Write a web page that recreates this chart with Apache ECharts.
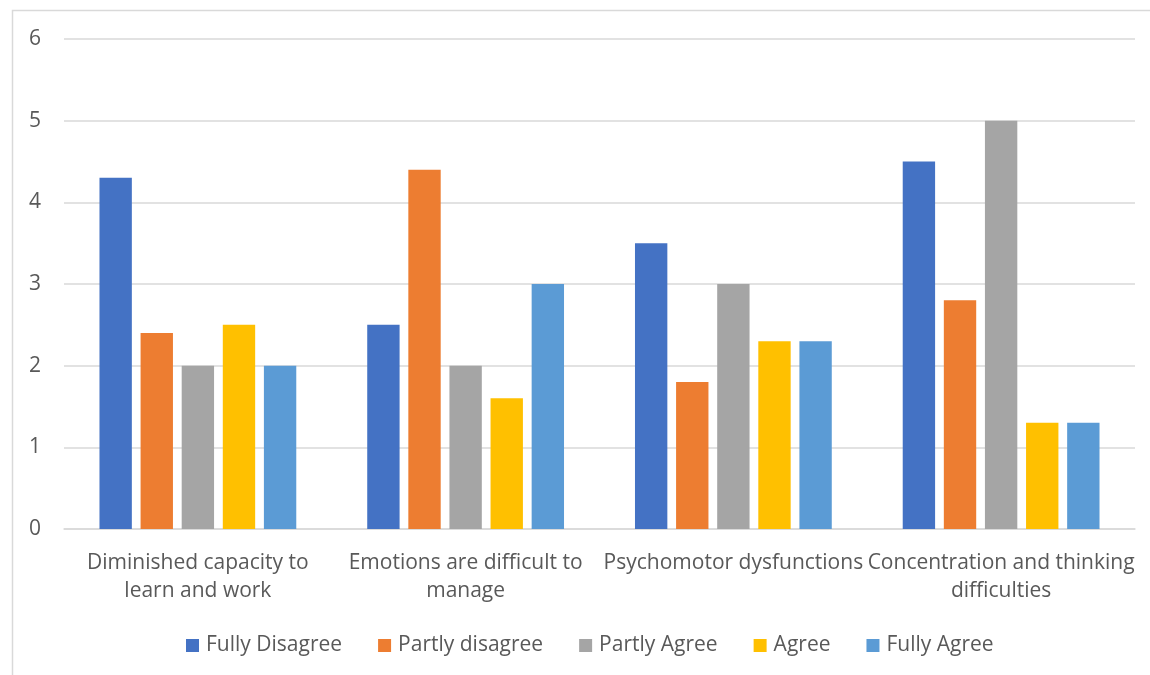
<!DOCTYPE html>
<html>
<head>
<meta charset="utf-8">
<script src="https://cdn.jsdelivr.net/npm/echarts@6/dist/echarts.min.js"></script>
<style>
  html, body { margin: 0; padding: 0; background: #fff; }
  #chart { width: 1150px; height: 675px; }
</style>
</head>
<body>
<div id="chart"></div>
<script>
// Symptom categories along the x axis
var categories = [
  'Diminished capacity to\nlearn and work',
  'Emotions are difficult to\nmanage',
  'Psychomotor dysfunctions',
  'Concentration and thinking\ndifficulties'
];

// One array per response level, values per category
var fullyDisagree = [4.3, 2.5, 3.5, 4.5];
var partlyDisagree = [2.4, 4.4, 1.8, 2.8];
var partlyAgree = [2.0, 2.0, 3.0, 5.0];
var agree = [2.5, 1.6, 2.3, 1.3];
var fullyAgree = [2.0, 3.0, 2.3, 1.3];

var seriesNames = ['Fully Disagree', 'Partly disagree', 'Partly Agree', 'Agree', 'Fully Agree'];
var seriesData = [fullyDisagree, partlyDisagree, partlyAgree, agree, fullyAgree];
var seriesColors = ['#4472C4', '#ED7D31', '#A5A5A5', '#FFC000', '#5B9BD5'];

var FONT = '"Open Sans"';
var FONT_SIZE = 21;
var TEXT = '#595959';
var GRID = '#d9d9d9';

var chart = echarts.init(document.getElementById('chart'), null, { renderer: 'canvas' });

chart.setOption({
  backgroundColor: '#ffffff',
  animation: false,
  textStyle: { fontFamily: FONT },
  graphic: [{
    type: 'rect',
    silent: true,
    shape: { x: 12.5, y: 10.5, width: 1300, height: 800 },
    style: { fill: 'none', stroke: GRID, lineWidth: 1.5 }
  }],
  grid: { left: 64, right: 15, top: 39, bottom: 146, containLabel: false },
  legend: {
    data: seriesNames,
    left: 181,
    top: 630,
    icon: 'rect',
    itemWidth: 13,
    itemHeight: 13,
    itemGap: 36,
    textStyle: { fontFamily: FONT, fontSize: FONT_SIZE, color: TEXT, padding: [0, 0, 0, 2] }
  },
  xAxis: {
    type: 'category',
    data: categories,
    axisTick: { show: false },
    axisLine: { lineStyle: { color: GRID, width: 1.5 } },
    axisLabel: {
      interval: 0,
      margin: 20,
      fontFamily: FONT,
      fontSize: FONT_SIZE,
      lineHeight: 28,
      color: TEXT
    }
  },
  yAxis: {
    type: 'value',
    min: 0,
    max: 6,
    interval: 1,
    axisLine: { show: false },
    axisTick: { show: false },
    splitLine: { lineStyle: { color: GRID, width: 1.5 } },
    axisLabel: { margin: 23, fontFamily: FONT, fontSize: FONT_SIZE, color: TEXT }
  },
  series: seriesNames.map(function (name, i) {
    return {
      name: name,
      type: 'bar',
      data: seriesData[i],
      barGap: '27%',
      barCategoryGap: '26.5%',
      itemStyle: { color: seriesColors[i] }
    };
  })
});
</script>
</body>
</html>
